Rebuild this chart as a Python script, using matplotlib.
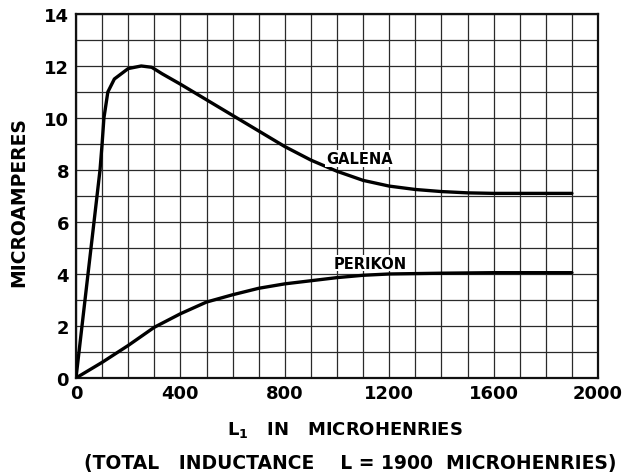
import matplotlib

matplotlib.use("Agg")
import matplotlib.pyplot as plt
from matplotlib.ticker import MultipleLocator

# crystal detector response vs. primary inductance L1 (microhenries)
galena_l1 = [0, 46, 92, 100, 107, 122, 147, 200, 250, 290, 330, 400, 500, 600,
             700, 800, 900, 1000, 1100, 1200, 1300, 1400, 1500, 1600, 1700,
             1800, 1900]
galena_ua = [0, 4.0, 8.0, 9.0, 10.0, 11.0, 11.5, 11.9, 12.0, 11.95, 11.7, 11.3,
             10.7, 10.1, 9.5, 8.9, 8.38, 7.95, 7.6, 7.38, 7.25, 7.17, 7.12, 7.1,
             7.1, 7.1, 7.1]

perikon_l1 = [0, 100, 200, 300, 400, 500, 600, 700, 800, 900, 1000, 1100,
              1200, 1400, 1600, 1900]
perikon_ua = [0, 0.6, 1.25, 1.95, 2.47, 2.92, 3.2, 3.45, 3.62, 3.74, 3.86,
              3.95, 4.0, 4.03, 4.05, 4.05]

x_ticks = [0, 400, 800, 1200, 1600, 2000]
y_ticks = [0, 2, 4, 6, 8, 10, 12, 14]

plt.rcParams["font.family"] = ["DejaVu Sans"]
plt.rcParams["font.weight"] = "bold"

fig = plt.figure(figsize=(6.26, 4.77), dpi=100)
ax = fig.add_axes([0.1214, 0.2055, 0.8339, 0.7631])

ax.plot(galena_l1, galena_ua, color="black", lw=2.4, solid_capstyle="round",
        solid_joinstyle="round", zorder=3)
ax.plot(perikon_l1, perikon_ua, color="black", lw=2.4, solid_capstyle="round",
        solid_joinstyle="round", zorder=3)

ax.text(1085, 8.45, "GALENA", fontsize=10.5, fontweight="bold",
        ha="center", va="center", zorder=4,
        bbox=dict(facecolor="white", edgecolor="none", pad=0.5))
ax.text(1126, 4.42, "PERIKON", fontsize=10.5, fontweight="bold",
        ha="center", va="center", zorder=4,
        bbox=dict(facecolor="white", edgecolor="none", pad=0.5))

ax.set_xlim(0, 2000)
ax.set_ylim(0, 14)
ax.set_xticks(x_ticks)
ax.set_yticks(y_ticks)
ax.xaxis.set_minor_locator(MultipleLocator(100))
ax.yaxis.set_minor_locator(MultipleLocator(1))
ax.grid(True, which="both", color="#2a2a2a", lw=0.9)
ax.set_axisbelow(True)
ax.tick_params(which="both", length=0)
ax.tick_params(axis="x", pad=4, labelsize=13)
ax.tick_params(axis="y", pad=5, labelsize=13)
for lab in ax.get_xticklabels() + ax.get_yticklabels():
    lab.set_fontweight("bold")
for side in ax.spines.values():
    side.set_linewidth(1.6)
    side.set_color("#111111")

fig.text(0.03, 0.576, "MICROAMPERES", rotation=90, fontsize=13.5,
         fontweight="bold", ha="center", va="center")
fig.text(0.551, 0.0985, "L$_\\mathbf{1}$   IN   MICROHENRIES", fontsize=13,
         fontweight="bold", ha="center", va="center")
fig.text(0.559, 0.029, "(TOTAL   INDUCTANCE    L = 1900  MICROHENRIES)",
         fontsize=13.5, fontweight="bold", ha="center", va="center")

fig.savefig("out.png", dpi=100, facecolor="white")
